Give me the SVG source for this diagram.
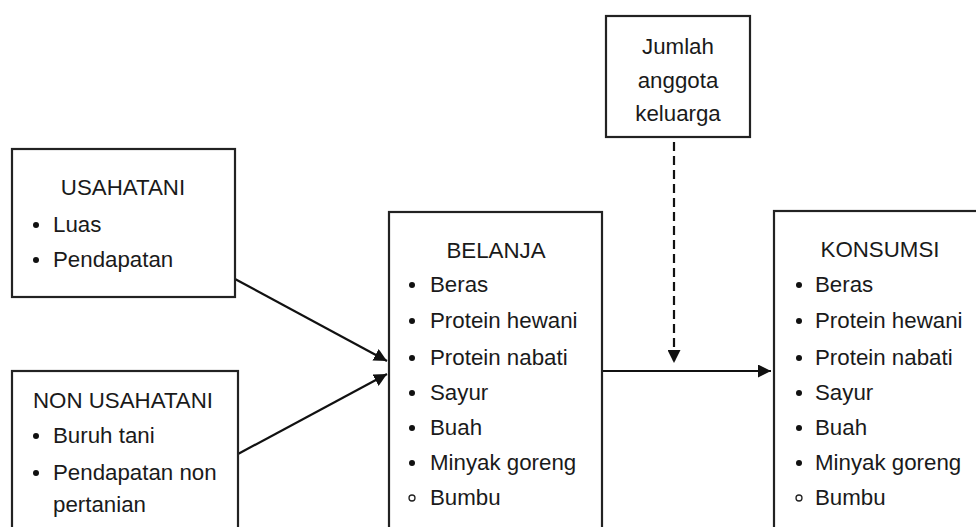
<svg xmlns="http://www.w3.org/2000/svg" width="976" height="527" viewBox="0 0 976 527">
<style>
.box{fill:#fff;stroke:#222;stroke-width:2.2}
text{font-family:"Liberation Sans",Arial,sans-serif;font-size:22.3px;fill:#1a1a1a}
.c{text-anchor:middle}
.b{fill:#111}
.o{fill:none;stroke:#222;stroke-width:1.3}
.ln{stroke:#111;stroke-width:2.2;fill:none}
</style>
<defs>
<marker id="ah2" viewBox="0 0 12 12" refX="12" refY="6" markerWidth="13" markerHeight="13" markerUnits="userSpaceOnUse" orient="auto">
<path d="M0,0 L12,6 L0,12 z" fill="#111"/>
</marker>
</defs>
<rect width="976" height="527" fill="#fff"/>
<g id="connectors">
<line class="ln" x1="235" y1="279" x2="387" y2="361" marker-end="url(#ah2)"/>
<line class="ln" x1="238" y1="454" x2="387" y2="374" marker-end="url(#ah2)"/>
<line class="ln" x1="596" y1="371" x2="771" y2="371" marker-end="url(#ah2)"/>
<line class="ln" x1="674" y1="142" x2="674" y2="363" stroke-dasharray="9,5" marker-end="url(#ah2)"/>
</g>
<g id="usahatani">
<rect class="box" x="12" y="149" width="223" height="148"/>
<text class="c" x="123" y="195">USAHATANI</text>
<circle class="b" cx="36" cy="225" r="3"/><text x="53" y="232">Luas</text>
<circle class="b" cx="36" cy="260" r="3"/><text x="53" y="267">Pendapatan</text>
</g>
<g id="non-usahatani">
<rect class="box" x="12" y="371" width="226" height="170"/>
<text x="33" y="408">NON USAHATANI</text>
<circle class="b" cx="36" cy="436" r="3"/><text x="53" y="443">Buruh tani</text>
<circle class="b" cx="36" cy="473" r="3"/><text x="53" y="480">Pendapatan non</text>
<text x="53" y="512">pertanian</text>
</g>
<g id="belanja">
<rect class="box" x="389" y="212" width="213" height="330"/>
<text class="c" x="496" y="258">BELANJA</text>
<circle class="b" cx="412" cy="285" r="3"/><text x="430" y="292">Beras</text>
<circle class="b" cx="412" cy="321" r="3"/><text x="430" y="328">Protein hewani</text>
<circle class="b" cx="412" cy="358" r="3"/><text x="430" y="365">Protein nabati</text>
<circle class="b" cx="412" cy="393" r="3"/><text x="430" y="400">Sayur</text>
<circle class="b" cx="412" cy="428" r="3"/><text x="430" y="435">Buah</text>
<circle class="b" cx="412" cy="463" r="3"/><text x="430" y="470">Minyak goreng</text>
<circle class="o" cx="412" cy="498" r="3"/><text x="430" y="505">Bumbu</text>
</g>
<g id="jumlah">
<rect class="box" x="606" y="16" width="144" height="121"/>
<text class="c" x="678" y="54">Jumlah</text>
<text class="c" x="678" y="88">anggota</text>
<text class="c" x="678" y="121">keluarga</text>
</g>
<g id="konsumsi">
<rect class="box" x="774" y="211" width="220" height="330"/>
<text class="c" x="880" y="257">KONSUMSI</text>
<circle class="b" cx="799" cy="285" r="3"/><text x="815" y="292">Beras</text>
<circle class="b" cx="799" cy="321" r="3"/><text x="815" y="328">Protein hewani</text>
<circle class="b" cx="799" cy="358" r="3"/><text x="815" y="365">Protein nabati</text>
<circle class="b" cx="799" cy="393" r="3"/><text x="815" y="400">Sayur</text>
<circle class="b" cx="799" cy="428" r="3"/><text x="815" y="435">Buah</text>
<circle class="b" cx="799" cy="463" r="3"/><text x="815" y="470">Minyak goreng</text>
<circle class="o" cx="799" cy="498" r="3"/><text x="815" y="505">Bumbu</text>
</g>
</svg>
